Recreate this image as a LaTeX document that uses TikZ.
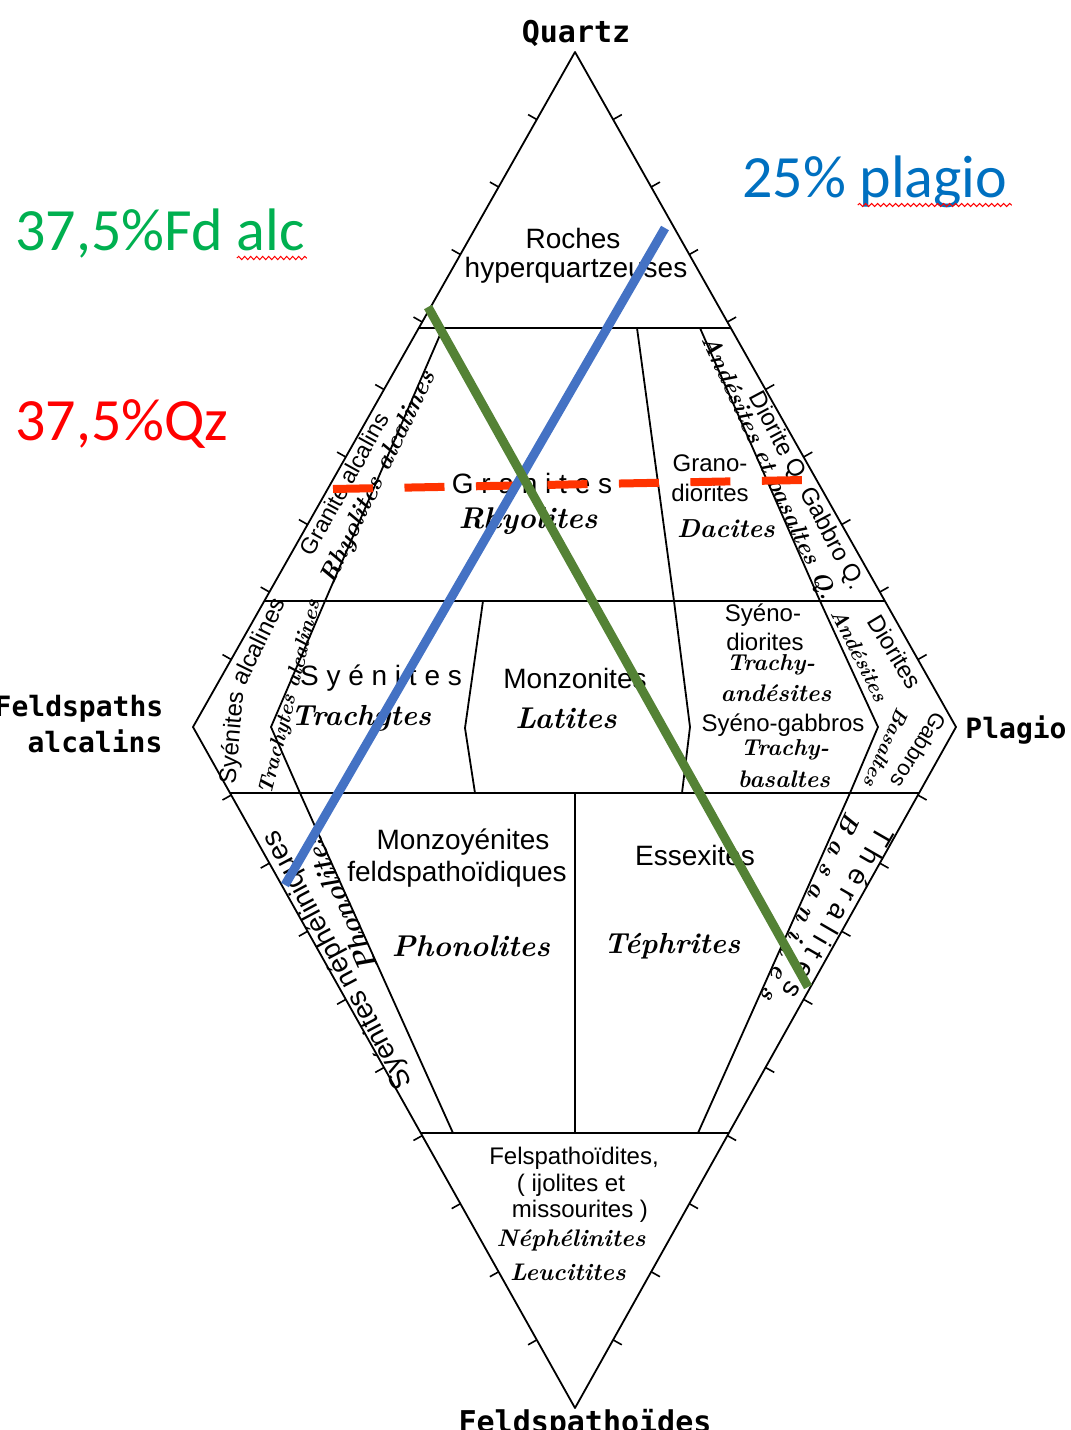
\documentclass[tikz,border=0pt]{standalone}
\usepackage{fontspec}
\newfontfamily\rockfont{Liberation Sans}
\newfontfamily\apexfont{DejaVu Sans Mono}
\newfontfamily\notefont{Carlito}
\usepackage{tikz}
\usetikzlibrary{calc,decorations.pathmorphing}
\definecolor{LineBlue}{RGB}{68,114,196}
\definecolor{LineGreen}{RGB}{84,130,53}
\definecolor{DashRed}{RGB}{255,51,0}
\definecolor{NoteGreen}{RGB}{0,176,80}
\definecolor{NoteRed}{RGB}{255,0,0}
\definecolor{NoteBlue}{RGB}{0,112,192}
\tikzset{
  edge/.style={line width=0.9pt,line join=round},
  tickmark/.style={line width=0.8pt},
  apex/.style={font=\apexfont\bfseries\fontsize{#1}{#1}\selectfont,inner sep=0pt,anchor=base},
  apex/.default=14,
  rock/.style={font=\rockfont\fontsize{#1}{#1}\selectfont,inner sep=0pt},
  rock/.default=14,
  lava/.style={font=\bfseries\itshape\fontsize{#1}{#1}\selectfont,inner sep=0pt},
  lava/.default=15,
  note/.style={font=\notefont\fontsize{30}{36}\selectfont,inner sep=0pt,anchor=base west},
  markline/.style={line width=4.5pt},
  squiggle/.style={NoteRed,line width=0.5pt,decorate,decoration={snake,amplitude=0.8pt,segment length=3pt}}
}

\begin{document}
\begin{tikzpicture}[x=0.5pt,y=-0.5pt]
\useasboundingbox (0,0) rectangle (1071,1430);
% corners of the QAPF double triangle
\coordinate (Q) at (575,52);
\coordinate (A) at (193,727);
\coordinate (P) at (956,727);
\coordinate (F) at (575,1408);
\draw[edge] (Q)--(P)--(F)--(A)--cycle;
% graduations every 10%
\foreach \from/\to/\turn in {Q/A/-90,Q/P/90,F/A/90,F/P/-90}{
  \foreach \f in {0.1,0.2,0.3,0.4,0.5,0.6,0.7,0.8,0.9}{
    \coordinate (g) at ($(\from)!\f!(\to)$);
    \draw[tickmark] (g)--($(g)!5pt!\turn:(\to)$);
  }
}
% field limits
\draw[edge] ($(Q)!.409!(A)$)--($(Q)!.409!(P)$);
\draw[edge] ($(Q)!.813!(A)$)--($(Q)!.813!(P)$);
\draw[edge] ($(F)!.903!(A)$)--($(F)!.903!(P)$);
\draw[edge] ($(F)!.404!(A)$)--($(F)!.404!(P)$);
\draw[edge] (443,328)--(325,601)--(271,727)--(300,793)--(453,1133);
\draw[edge] (700,328)--(820,601)--(878,727)--(850,793)--(698,1133);
\draw[edge] (637,328)--(674,601)--(690,727)--(682,793);
\draw[edge] (483,601)--(465,728)--(475,793);
\draw[edge] (575,793)--(575,1133);

% poles
\node[apex=15] (qz) at (576,42) {Quartz};
\node[apex] (fa1) at (79,716) {Feldspaths};
\node[apex] (fa2) at (95,752) {alcalins};
\node[apex] (pl) at (1016,738) {Plagio};
\node[apex=15] (fd) at (585,1432) {Feldspathoïdes};

% plutonic names (sans) and volcanic names (italic)
\node[rock] (roc1) at (573,238) {Roches};
\node[rock] (roc2) at (576,270) {hyperquartzeuses};
\node[rock] (gra) at (532,483) {G r a n i t e s};
\node[lava] (rhy) at (528,521) {Rhyolites};
\node[rock=12] (grd1) at (710,463) {Grano-};
\node[rock=12] (grd2) at (710,493) {diorites};
\node[lava=13] (dac) at (726,529) {Dacites};
\node[rock] (sye) at (381,678) {S y é n i t e s};
\node[lava=14.5] (tra) at (361,718) {Trachytes};
\node[rock] (mzn) at (575,678) {Monzonites};
\node[lava] (lat) at (566,718) {Latites};
\node[rock=12] (sd1) at (763,615) {Syéno-};
\node[rock=12] (sd2) at (765,642) {diorites};
\node[lava=11.5] (ta1) at (771,665) {Trachy-};
\node[lava=12] (ta2) at (776,693) {andésites};
\node[rock=12] (sgb) at (783,725) {Syéno-gabbros};
\node[lava=11.5] (tb1) at (785,750) {Trachy-};
\node[lava=12] (tb2) at (784,779) {basaltes};
\node[rock] (mzf1) at (463,842) {Monzoyénites};
\node[rock] (mzf2) at (457,874) {feldspathoïdiques};
\node[lava] (pho) at (471,946) {Phonolites};
\node[rock] (ess) at (695,855) {Essexites};
\node[lava=14.5] (tep) at (672,946) {Téphrites};
\node[rock=12] (fo1) at (574,1158) {Felspathoïdites,};
\node[rock=12] (fo2) at (571,1185) {( ijolites et};
\node[rock=12] (fo3) at (580,1211) {missourites )};
\node[lava=12] (nep) at (571,1240) {Néphélinites};
\node[lava=12] (leu) at (568,1272) {Leucitites};

% names written along the edges
\node[rock=11.5,rotate=61] (gal) at (344,484) {Granite alcalins};
\node[lava=12.5,rotate=64] (ral) at (379,478) {Rhyolites alcalines};
\node[rock=12,rotate=85] (sal1) at (233,738) {Syénites};
\node[rock=12,rotate=64] (sal2) at (258,641) {alcalines};
\node[lava=10.5,rotate=76] (tal) at (291,697) {Trachytes alcalines};
\node[lava=12,rotate=-65] (abq) at (768,468) {Andésites et basaltes Q.};
\node[rock=12,rotate=-62] (dgq) at (806,491) {Diorite Q. Gabbro Q.};
\node[rock=12,rotate=-59] (dio) at (895,652) {Diorites};
\node[lava=10.5,rotate=-63] (and) at (860,655) {Andésites};
\node[rock=11,rotate=-122] (gab) at (919,750) {Gabbros};
\node[lava=10,rotate=-114] (bas) at (887,748) {Basaltes};
\node[rock,rotate=-120] (the) at (839,913) {T h é r a l i t e s};
\node[lava=12.5,rotate=-115] (bsn) at (811,907) {B a s a n i t e s};
\node[rock,rotate=118] (syn) at (338,960) {Syénites néphéliniques};
\node[lava=14,rotate=114] (phs) at (340,903) {Phonolites};

% reading of one rock: 37,5% Qz, 37,5% Fd alc, 25% plagio
\node[note,NoteGreen] (fdalc) at (15,250) {37,5\%Fd alc};
\node[note,NoteRed] (qz37) at (15,440) {37,5\%Qz};
\node[note,NoteBlue] (plag25) at (742,197) {25\% plagio};
\draw[squiggle] ($(fdalc.base east)+(-68,8)$)--($(fdalc.base east)+(2,8)$);
\draw[squiggle] ($(plag25.base east)+(-150,8)$)--($(plag25.base east)+(4,8)$);

\coordinate (qzL) at (333,489);
\coordinate (qzR) at (803,480);
\coordinate (plagTop) at (665,228);
\coordinate (plagBot) at (285,885);
\coordinate (alcTop) at (428,307);
\coordinate (alcBot) at (808,987);
\draw[DashRed,line width=4pt,dash pattern=on 20pt off 15.75pt] (qzL)--(qzR);
\draw[markline,LineBlue] (plagTop)--(plagBot);
\draw[markline,LineGreen] (alcTop)--(alcBot);
\end{tikzpicture}
\end{document}
